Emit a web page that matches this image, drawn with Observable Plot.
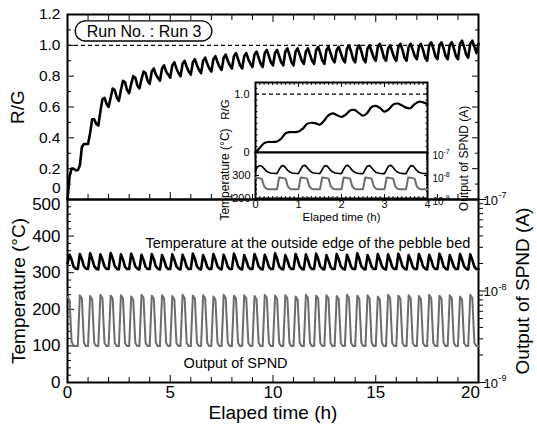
<!DOCTYPE html>
<html><head><meta charset="utf-8">
<script src="https://cdn.jsdelivr.net/npm/d3@7"></script>
<script src="https://cdn.jsdelivr.net/npm/@observablehq/plot@0.6"></script>
<style>
body{margin:0;background:#fff;}
#chart{position:relative;width:537px;height:425px;overflow:hidden;}
</style></head><body><div id="chart"></div>
<script>
// ---------------- DATA ----------------
// main series, sampled every 0.1 h from 0 to 20 h
const timeStep = 0.1;
const rgMain = [
0.00,0.15,0.20,0.20,0.19, 0.19,0.22,0.34,0.36,0.36, 0.36,0.43,0.52,0.52,0.49, 0.48,0.57,0.65,0.66,0.62,
0.60,0.66,0.72,0.71,0.66, 0.64,0.71,0.77,0.76,0.71, 0.69,0.75,0.80,0.79,0.74, 0.72,0.78,0.83,0.82,0.77,
0.75,0.83,0.85,0.81,0.79, 0.77,0.85,0.87,0.83,0.81, 0.79,0.87,0.89,0.85,0.82, 0.80,0.88,0.90,0.86,0.83,
0.81,0.89,0.91,0.87,0.84, 0.82,0.90,0.92,0.88,0.85, 0.83,0.91,0.93,0.89,0.86, 0.84,0.92,0.94,0.90,0.87,
0.85,0.93,0.95,0.91,0.87, 0.85,0.93,0.95,0.91,0.88, 0.86,0.94,0.96,0.92,0.88, 0.86,0.95,0.97,0.93,0.89,
0.87,0.95,0.97,0.93,0.89, 0.87,0.96,0.98,0.94,0.89, 0.87,0.96,0.98,0.94,0.90, 0.88,0.96,0.98,0.94,0.90,
0.88,0.97,0.99,0.95,0.90, 0.88,0.97,0.99,0.95,0.91, 0.89,0.97,0.99,0.95,0.91, 0.89,0.98,1.00,0.96,0.91,
0.89,0.98,1.00,0.96,0.91, 0.89,0.98,1.00,0.96,0.92, 0.90,0.99,1.01,0.97,0.92, 0.90,0.98,1.00,0.96,0.92,
0.90,0.99,1.01,0.97,0.92, 0.90,0.99,1.01,0.97,0.93, 0.91,0.99,1.01,0.97,0.92, 0.90,1.00,1.02,0.98,0.93,
0.91,1.00,1.02,0.98,0.93, 0.91,1.00,1.02,0.98,0.93, 0.91,1.01,1.03,0.99,0.94, 0.92,1.01,1.03,0.99,0.95,
1.01
];
const tempMain = [
325,349,336,316,311, 310,351,337,317,311, 310,353,338,318,311, 309,350,336,317,310, 310,354,339,318,311,
309,350,336,316,310, 310,352,337,317,311, 309,349,335,316,310, 310,351,337,317,311, 309,348,335,316,310,
310,350,336,317,311, 309,349,335,316,310, 310,352,338,317,311, 309,348,334,316,310, 310,351,336,317,311,
309,349,335,316,310, 310,352,337,317,311, 309,348,334,316,310, 310,351,337,317,311, 309,349,335,316,310,
310,353,338,317,311, 309,348,334,316,310, 310,351,336,317,311, 309,350,335,316,310, 310,352,337,317,311,
309,348,334,316,310, 310,351,337,317,311, 309,349,335,316,310, 310,353,338,317,311, 309,348,334,316,310,
310,351,336,317,311, 309,350,335,316,310, 310,352,337,317,311, 309,348,334,316,310, 310,351,337,317,311,
309,349,335,316,310, 310,352,338,317,311, 309,348,334,316,310, 310,351,336,317,311, 309,350,335,316,310,
310
];
// SPND output in nA (1e-9 A)
const spndMain = [
8.6,8.0,2.8,2.5,2.5, 2.5,9.0,8.3,2.7,2.5, 2.5,8.8,8.1,2.7,2.5, 2.5,9.1,8.4,2.7,2.5, 2.5,8.9,8.2,2.7,2.5,
2.5,9.0,8.3,2.7,2.5, 2.5,8.7,8.0,2.7,2.5, 2.5,9.1,8.4,2.7,2.5, 2.5,8.9,8.2,2.7,2.5, 2.5,9.0,8.3,2.7,2.5,
2.5,8.8,8.1,2.7,2.5, 2.5,9.1,8.4,2.7,2.5, 2.5,8.9,8.2,2.7,2.5, 2.5,9.0,8.3,2.7,2.5, 2.5,8.7,8.0,2.7,2.5,
2.5,9.1,8.4,2.7,2.5, 2.5,8.9,8.2,2.7,2.5, 2.5,9.0,8.3,2.7,2.5, 2.5,8.8,8.1,2.7,2.5, 2.5,9.1,8.4,2.7,2.5,
2.5,8.9,8.2,2.7,2.5, 2.5,9.0,8.3,2.7,2.5, 2.5,8.7,8.0,2.7,2.5, 2.5,9.1,8.4,2.7,2.5, 2.5,8.9,8.2,2.7,2.5,
2.5,9.0,8.3,2.7,2.5, 2.5,8.8,8.1,2.7,2.5, 2.5,9.1,8.4,2.7,2.5, 2.5,8.9,8.2,2.7,2.5, 2.5,9.0,8.3,2.7,2.5,
2.5,8.7,8.0,2.7,2.5, 2.5,9.1,8.4,2.7,2.5, 2.5,8.9,8.2,2.7,2.5, 2.5,9.0,8.3,2.7,2.5, 2.5,8.8,8.1,2.7,2.5,
2.5,9.1,8.4,2.7,2.5, 2.5,8.9,8.2,2.7,2.5, 2.5,9.0,8.3,2.7,2.5, 2.5,8.7,8.0,2.7,2.5, 2.5,9.1,8.4,2.7,2.5,
2.5
];
// inset series (first 4 h)
const insetRgStep = 0.1;
const rgInset = [
0.00,0.08,0.16,0.18,0.18, 0.19,0.24,0.33,0.35,0.35, 0.36,0.41,0.49,0.51,0.50, 0.48,0.55,0.64,0.67,0.64,
0.61,0.65,0.72,0.73,0.68, 0.63,0.68,0.78,0.80,0.76, 0.70,0.74,0.82,0.84,0.81, 0.77,0.76,0.83,0.87,0.86,
0.83
];
const insetStep = 0.05;
const tempInset = [
322,338,343,340,330,320,314,311,310,309,
309,326,341,343,334,322,315,311,310,309,
309,327,342,344,335,323,315,311,310,309,
309,326,341,343,334,322,315,311,310,309,
308,327,342,344,335,322,315,311,309,308,
308,326,341,343,334,322,314,311,309,308,
308,327,342,344,335,323,315,311,309,308,
308,326,341,343,334,322,314,311,309,308,
308
];
const spndInset = [
8.0,7.8,7.5,7.1,3.4,2.7,2.5,2.5,2.5,2.5,
2.5,8.2,8.0,7.7,7.3,3.4,2.7,2.5,2.5,2.5,
2.5,8.2,8.0,7.7,7.3,3.4,2.7,2.5,2.5,2.5,
2.5,8.2,8.0,7.7,7.3,3.4,2.7,2.5,2.5,2.5,
2.5,8.2,8.0,7.7,7.3,3.4,2.7,2.5,2.5,2.5,
2.5,8.2,8.0,7.7,7.3,3.4,2.7,2.5,2.5,2.5,
2.5,8.2,8.0,7.7,7.3,3.4,2.7,2.5,2.5,2.5,
2.5,8.2,8.0,7.7,7.3,3.4,2.7,2.5,2.5,2.5,
2.5
];
const rgReference = [1.0];

// tick values and labels
const timeMajor = [0, 5, 10, 15, 20];
const timeMinor = d3.range(1, 20).filter(d => d % 5 !== 0);
const rgMajor = [0, 0.2, 0.4, 0.6, 0.8, 1.0, 1.2];
const rgMinor = [0.1, 0.3, 0.5, 0.7, 0.9, 1.1];
const rgLabels = [0.2, 0.4, 0.6, 0.8, 1.0, 1.2];
const tempMajor = [0, 100, 200, 300, 400, 500];
const tempMinor = d3.range(20, 500, 20).filter(d => d % 100 !== 0);
const tempLabels = [0, 100, 200, 300, 400];
const spndMajor = [1e-9, 1e-8, 1e-7];
const spndMinor = [2,3,4,5,6,7,8,9].flatMap(m => [m * 1e-9, m * 1e-8]);
const spndExp = ["-9", "-8", "-7"];
const insetTimeMajor = [0, 1, 2, 3, 4];
const insetTimeLabels = ["0", "1", "2", "3", "4"];
const insetTimeMinor = d3.range(1, 40).filter(i => i % 10 !== 0).map(i => i / 10);
const insetRgTicks = d3.range(0, 13).map(i => i / 10);
const insetRgLabels = [0, 1.0];
const insetTempMajor = [200, 300, 400];
const insetTempMinor = [220, 240, 260, 280, 320, 340, 360, 380];
const insetTempLabels = [200, 300];

// annotations
const runNote = {t1: 0.4, t2: 7.05, rg1: 1.025, rg2: 1.155, label: "Run No. : Run 3"};
const tempNote = {t: 19.6, temp: 380, label: "Temperature at the outside edge of the pebble bed"};
const spndNote = {t: 5.65, temp: 52, label: "Output of SPND"};

// ---------------- LAYOUT ----------------
const W = 537, H = 425;
const mainBox = {left: 67, right: 478, top: 14, mid: 199, bottom: 382};
const insetBox = {left: 255, right: 427, top: 82, mid: 152, bottom: 198};
const svgStyle = "position:absolute;left:0;top:0;background:transparent;overflow:visible;font-family:'Liberation Sans',Arial,Helvetica,sans-serif;";
const grey = "#6c6c6c";

const mainTable = rgMain.map((v, i) => ({t: i * timeStep, rg: v, temp: tempMain[i], spnd: spndMain[i] * 1e-9}));
const insetRgTable = rgInset.map((v, i) => ({t: i * insetRgStep, rg: v}));
const insetTable = tempInset.map((v, i) => ({t: i * insetStep, temp: v, spnd: spndInset[i] * 1e-9}));

const blank = () => "";
function tickY(anchor, ticks, len, inward = true) {
  return Plot.axisY({anchor, ticks, tickSize: len, dx: inward ? (anchor === "left" ? len : -len) : 0, tickFormat: blank, label: null});
}
function tickX(anchor, ticks, len) {
  return Plot.axisX({anchor, ticks, tickSize: len, dy: anchor === "bottom" ? -len : len, tickFormat: blank, label: null});
}
function vtitle(label, anchor, dx, dy, size) {
  return Plot.text([label], {text: d => d, frameAnchor: anchor, textAnchor: "middle", lineAnchor: "middle", rotate: -90, dx, dy, fontSize: size});
}
function layer(top, bottom, left, right, opts) {
  return Plot.plot({
    width: W, height: H,
    marginLeft: left, marginRight: W - right, marginTop: top, marginBottom: H - bottom,
    style: svgStyle,
    ...opts
  });
}

const chart = document.getElementById("chart");

// --- main R/G panel ---
chart.append(layer(mainBox.top, mainBox.mid, mainBox.left, mainBox.right, {
  x: {domain: [0, 20]},
  y: {domain: [0, 1.2]},
  marks: [
    Plot.ruleY(rgReference, {strokeDasharray: "4,3", strokeWidth: 1.2}),
    Plot.line(mainTable, {x: "t", y: "rg", strokeWidth: 2.6}),
    Plot.rect([runNote], {x1: "t1", x2: "t2", y1: "rg1", y2: "rg2", rx: 10, fill: "white", stroke: "black", strokeWidth: 1.3}),
    Plot.text([runNote], {x: d => (d.t1 + d.t2) / 2, y: d => (d.rg1 + d.rg2) / 2, text: "label", fontSize: 16}),
    tickY("left", rgMajor, 7), tickY("left", rgMinor, 4),
    tickY("right", rgMajor, 7), tickY("right", rgMinor, 4),
    tickX("top", timeMajor, 7), tickX("top", timeMinor, 5),
    tickX("bottom", timeMajor, 7), tickX("bottom", timeMinor, 5),
    Plot.axisY({ticks: rgLabels, tickSize: 0, tickPadding: 7, fontSize: 15.5, tickFormat: d => d.toFixed(1), label: null}),
    Plot.axisY({ticks: [0], tickSize: 0, tickPadding: 7, fontSize: 15.5, dy: -11, tickFormat: d => String(d), label: null}),
    vtitle("R/G", "left", -50, 0, 19),
    Plot.frame({strokeWidth: 2})
  ]
}));

// --- main temperature panel ---
chart.append(layer(mainBox.mid, mainBox.bottom, mainBox.left, mainBox.right, {
  x: {domain: [0, 20]},
  y: {domain: [0, 500]},
  marks: [
    Plot.line(mainTable, {x: "t", y: "temp", strokeWidth: 2.6}),
    Plot.text([tempNote], {x: "t", y: "temp", text: "label", textAnchor: "end", fontSize: 14.5}),
    Plot.text([spndNote], {x: "t", y: "temp", text: "label", textAnchor: "start", fontSize: 14.5}),
    tickY("left", tempMajor, 7), tickY("left", tempMinor, 4),
    tickX("bottom", timeMajor, 7), tickX("bottom", timeMinor, 5),
    Plot.axisY({ticks: tempLabels, tickSize: 0, tickPadding: 7, fontSize: 17, tickFormat: d => String(d), label: null}),
    Plot.axisY({ticks: [500], tickSize: 0, tickPadding: 7, fontSize: 17, dy: 5, tickFormat: d => String(d), label: null}),
    Plot.axisX({ticks: timeMajor.slice(0, 4), tickSize: 0, tickPadding: 3, fontSize: 17, tickFormat: d => String(d), label: null}),
    Plot.axisX({ticks: [20], tickSize: 0, tickPadding: 3, fontSize: 17, dx: -8, tickFormat: d => String(d), label: null}),
    vtitle("Temperature (\u00B0C)", "left", -49, 0, 19),
    Plot.text(["Elaped time (h)"], {text: d => d, frameAnchor: "bottom", textAnchor: "middle", lineAnchor: "middle", dy: 30, fontSize: 19}),
    Plot.frame({strokeWidth: 2})
  ]
}));

// --- main SPND overlay (log scale, right axis) ---
chart.append(layer(mainBox.mid, mainBox.bottom, mainBox.left, mainBox.right, {
  x: {domain: [0, 20], axis: null},
  y: {type: "log", domain: [1e-9, 1e-7]},
  marks: [
    Plot.line(mainTable, {x: "t", y: "spnd", stroke: grey, strokeWidth: 2}),
    tickY("right", spndMajor, 7, false), tickY("right", spndMinor, 4, false),
    Plot.text(spndMajor, {y: d => d, text: () => "10", frameAnchor: "right", textAnchor: "start", lineAnchor: "middle", dx: 5, dy: 1, fontSize: 13}),
    Plot.text(spndMajor, {y: d => d, text: (d, i) => spndExp[i], frameAnchor: "right", textAnchor: "start", lineAnchor: "middle", dx: 20, dy: -4, fontSize: 9}),
    vtitle("Output of SPND (A)", "right", 44, 0, 19)
  ]
}));

// --- inset R/G ---
chart.append(layer(insetBox.top, insetBox.mid, insetBox.left, insetBox.right, {
  x: {domain: [0, 4]},
  y: {domain: [0, 1.2]},
  marks: [
    Plot.frame({fill: "white", stroke: null}),
    Plot.ruleY(rgReference, {strokeDasharray: "4,3", strokeWidth: 1.2}),
    Plot.line(insetRgTable, {x: "t", y: "rg", curve: "catmull-rom", strokeWidth: 2.2}),
    tickY("left", insetRgTicks, 2.5), tickY("right", insetRgTicks, 2.5),
    tickX("top", insetTimeMajor, 4), tickX("top", insetTimeMinor, 2),
    Plot.axisY({ticks: insetRgLabels, tickSize: 0, tickPadding: 6, fontSize: 11, tickFormat: d => d === 0 ? "0" : d.toFixed(1), label: null}),
    vtitle("R/G", "left", -30, -8, 11.5),
    Plot.frame({strokeWidth: 2})
  ]
}));

// --- inset temperature ---
chart.append(layer(insetBox.mid, insetBox.bottom, insetBox.left, insetBox.right, {
  x: {domain: [0, 4]},
  y: {domain: [200, 400]},
  marks: [
    Plot.frame({fill: "white", stroke: null}),
    Plot.line(insetTable, {x: "t", y: "temp", strokeWidth: 1.6}),
    tickY("left", insetTempMajor, 4), tickY("left", insetTempMinor, 2),
    tickX("bottom", insetTimeMajor, 4), tickX("bottom", insetTimeMinor, 2),
    Plot.axisY({ticks: insetTempLabels, tickSize: 0, tickPadding: 5, fontSize: 11, tickFormat: d => String(d), label: null}),
    Plot.axisX({ticks: insetTimeMajor, tickSize: 0, tickPadding: 2, fontSize: 11, tickFormat: (d, i) => insetTimeLabels[i], label: null}),
    vtitle("Temperature (\u00B0C)", "left", -30, -1, 12),
    Plot.text(["Elaped time (h)"], {text: d => d, frameAnchor: "bottom", textAnchor: "middle", lineAnchor: "middle", dy: 19, fontSize: 11.5}),
    Plot.frame({strokeWidth: 2})
  ]
}));

// --- inset SPND overlay ---
chart.append(layer(insetBox.mid, insetBox.bottom, insetBox.left, insetBox.right, {
  x: {domain: [0, 4], axis: null},
  y: {type: "log", domain: [1e-9, 1e-7]},
  marks: [
    Plot.line(insetTable, {x: "t", y: "spnd", stroke: grey, strokeWidth: 2}),
    tickY("right", spndMajor, 4), tickY("right", spndMinor, 2),
    Plot.text(spndMajor, {y: d => d, text: () => "10", frameAnchor: "right", textAnchor: "start", lineAnchor: "middle", dx: 5, dy: 3, fontSize: 10}),
    Plot.text(spndMajor, {y: d => d, text: (d, i) => spndExp[i], frameAnchor: "right", textAnchor: "start", lineAnchor: "middle", dx: 16, dy: -1, fontSize: 7}),
    vtitle("Output of SPND (A)", "right", 37, -17, 12)
  ]
}));
</script>
</body></html>
